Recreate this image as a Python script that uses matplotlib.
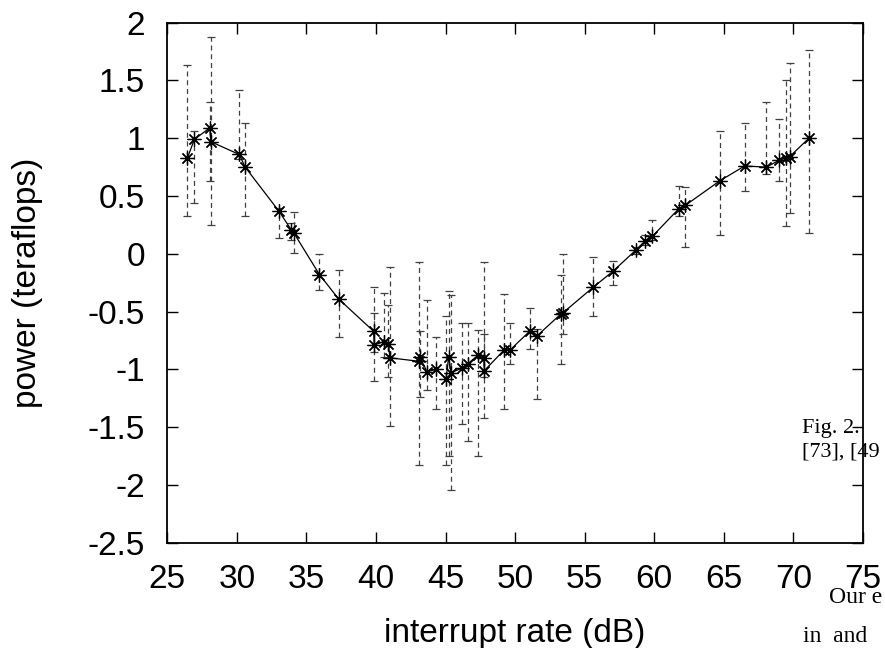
import numpy as np
import matplotlib
matplotlib.use("Agg")
from matplotlib import pyplot as plt

# interrupt rate (dB), power (teraflops), error bar low / high ends
rate = [26.45, 26.95, 28.06, 28.13, 30.17, 30.6, 33.02, 33.9, 34.1, 35.94,
        37.31, 39.83, 39.88, 40.55, 40.9, 41.0, 43.07, 43.14, 43.67, 44.34,
        45.04, 45.23, 45.4, 46.16, 46.62, 47.31, 47.74, 47.8, 49.23, 49.66,
        51.05, 51.58, 53.3, 53.45, 55.61, 57.05, 58.66, 59.33, 59.86, 61.77,
        62.25, 64.7, 66.5, 68.06, 69.0, 69.5, 69.73, 71.12]
power = [0.83, 0.99, 1.09, 0.97, 0.86, 0.75, 0.37, 0.21, 0.18, -0.18,
         -0.39, -0.67, -0.79, -0.76, -0.78, -0.90, -0.93, -0.89, -1.02, -1.00,
         -1.08, -0.89, -1.03, -0.99, -0.95, -0.88, -0.90, -1.01, -0.83, -0.83,
         -0.67, -0.71, -0.52, -0.51, -0.29, -0.15, 0.03, 0.11, 0.15, 0.39,
         0.42, 0.63, 0.76, 0.75, 0.81, 0.83, 0.84, 1.00]
err_lo = [0.33, 0.44, 0.63, 0.25, 0.82, 0.33, 0.14, 0.12, 0.01, -0.31,
          -0.72, -1.10, -0.85, -0.89, -1.07, -1.49, -1.83, -1.24, -1.18, -1.34,
          -1.83, -1.75, -2.04, -1.47, -1.62, -1.75, -1.07, -1.42, -1.34, -0.95,
          -0.82, -1.26, -0.95, -0.69, -0.54, -0.27, 0.00, 0.08, 0.12, 0.33,
          0.06, 0.16, 0.54, 0.69, 0.63, 0.24, 0.35, 0.18]
err_hi = [1.63, 1.06, 1.31, 1.88, 1.42, 1.13, 0.40, 0.27, 0.36, 0.00,
          -0.14, -0.29, -0.51, -0.34, -0.44, -0.11, -0.07, -0.67, -0.40, -0.72,
          -0.54, -0.32, -0.36, -0.60, -0.60, -0.66, -0.07, -0.69, -0.35, -0.60,
          -0.47, -0.65, -0.18, 0.00, -0.03, -0.06, 0.06, 0.16, 0.29, 0.59,
          0.58, 1.06, 1.13, 1.31, 1.17, 1.50, 1.65, 1.76]

x_ticks = [25, 30, 35, 40, 45, 50, 55, 60, 65, 70, 75]
y_ticks = [-2.5, -2, -1.5, -1, -0.5, 0, 0.5, 1, 1.5, 2]

plt.rcParams["font.family"] = ["Liberation Sans", "DejaVu Sans"]

fig = plt.figure(figsize=(8.85, 6.48), dpi=100)
ax = fig.add_axes([0.189, 0.1625, 0.786, 0.8025])

p = np.array(power)
yerr = [p - np.array(err_lo), np.array(err_hi) - p]
eb = ax.errorbar(rate, power, yerr=yerr, fmt="none", ecolor="0.25",
                 elinewidth=0.9, capsize=3, capthick=0.9)
eb[2][0].set_linestyle((0, (4, 3)))
ax.plot(rate, power, color="k", linewidth=0.9, marker=(8, 2, 0),
        markersize=10, markeredgewidth=0.9, markeredgecolor="k")

ax.set_xlim(25, 75)
ax.set_ylim(-2.5, 2)
ax.set_xticks(x_ticks)
ax.set_xticklabels([str(v) for v in x_ticks])
ax.set_yticks(y_ticks)
ax.set_yticklabels(["%g" % v for v in y_ticks])
ax.tick_params(direction="in", length=8, width=1, top=True, right=True,
               labelsize=24)
ax.tick_params(axis="x", pad=15)
ax.tick_params(axis="y", pad=16)
for s in ax.spines.values():
    s.set_linewidth(1.3)

ax.set_xlabel("interrupt rate (dB)", fontsize=24, labelpad=17)
ax.set_ylabel("power (teraflops)", fontsize=24, labelpad=32)

# fragments of the surrounding page text
serif = ["Liberation Serif", "DejaVu Serif"]
fig.text(802 / 885, 1 - 433 / 648, "Fig. 2.", family=serif, fontsize=16, va="baseline")
fig.text(802 / 885, 1 - 456 / 648, "[73], [49", family=serif, fontsize=16, va="baseline")
fig.text(829 / 885, 1 - 603 / 648, "Our e", family=serif, fontsize=17, va="baseline")
fig.text(803 / 885, 1 - 642 / 648, "in  and", family=serif, fontsize=17, va="baseline")

fig.savefig("out.png", dpi=100)
